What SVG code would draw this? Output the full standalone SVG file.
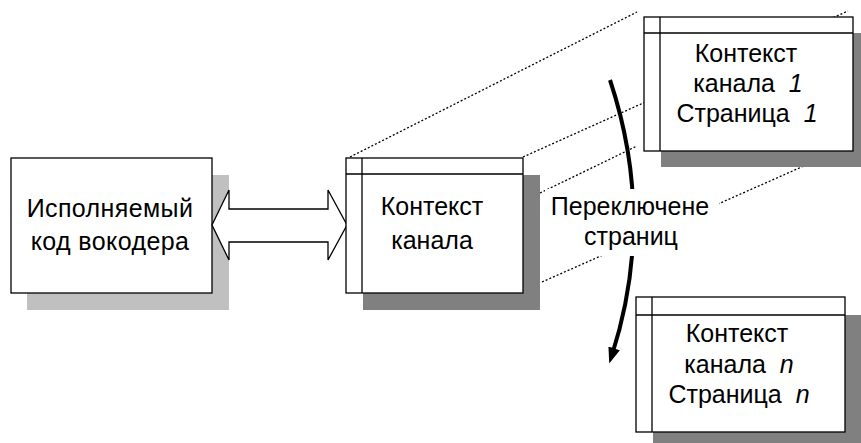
<svg xmlns="http://www.w3.org/2000/svg" width="861" height="443" viewBox="0 0 861 443">
  <style>
    .frame { fill: #ffffff; stroke: #000000; stroke-width: 1.3; }
    .rule { fill: none; stroke: #000000; stroke-width: 1.3; }
    .shadow-dark { fill: #808080; }
    .shadow-light { fill: #c0c0c0; }
    .dotted { fill: none; stroke: #000000; stroke-width: 1.3; stroke-dasharray: 2 2; }
    .label { font-family: "Liberation Sans", Arial, sans-serif; font-size: 25px; fill: #000000; text-anchor: middle; }
    .num { font-style: italic; }
  </style>
  <defs>
    <marker id="head" markerUnits="userSpaceOnUse" viewBox="0 0 16 12" markerWidth="16" markerHeight="12" refX="7" refY="6" orient="auto">
      <path d="M0,0 L16,6 L0,12 z" fill="#000000"/>
    </marker>
  </defs>

  <rect width="861" height="443" fill="#ffffff"/>

  <!-- connectors: projection lines and the page-switch arc -->
  <g id="connectors">
    <line class="dotted" x1="350" y1="157" x2="637" y2="12"/>
    <line class="dotted" x1="523" y1="157" x2="848" y2="11"/>
    <line class="dotted" x1="540" y1="193" x2="637" y2="146"/>
    <line class="dotted" x1="542" y1="282" x2="858" y2="142"/>
    <path d="M610,80 Q656,218 612,355" fill="none" stroke="#000000" stroke-width="4" marker-end="url(#head)"/>
  </g>

  <!-- page switch label -->
  <g id="switch-label">
    <rect x="545" y="189" width="174" height="67" fill="#ffffff"/>
    <text class="label" x="630" y="215">Переключене</text>
    <text class="label" x="631" y="245">страниц</text>
  </g>

  <!-- executable code -->
  <g id="vocoder-code">
    <rect class="shadow-light" x="27" y="175" width="202" height="135"/>
    <rect class="frame" x="11" y="158" width="201" height="135"/>
    <text class="label" x="110" y="217" style="letter-spacing:0.4px">Исполняемый</text>
    <text class="label" x="110" y="250" style="letter-spacing:0.4px">код вокодера</text>
  </g>

  <!-- two-way data exchange -->
  <g id="exchange">
    <polygon class="frame" points="212,225 229,190 229,209 328,209 328,190 347,225 328,260 328,242 229,242 229,260"/>
  </g>

  <!-- active channel context -->
  <g id="channel-context">
    <rect class="shadow-dark" x="363" y="175" width="177" height="135"/>
    <rect class="frame" x="346" y="158" width="177" height="135"/>
    <line class="rule" x1="362" y1="158" x2="362" y2="293"/>
    <line class="rule" x1="346" y1="174" x2="523" y2="174"/>
    <text class="label" x="432" y="215">Контекст</text>
    <text class="label" x="432" y="249">канала</text>
  </g>

  <!-- page 1 -->
  <g id="page-1">
    <rect class="shadow-dark" x="661" y="33" width="210" height="134"/>
    <rect class="frame" x="644" y="17" width="209" height="134"/>
    <line class="rule" x1="660" y1="17" x2="660" y2="151"/>
    <line class="rule" x1="644" y1="33" x2="853" y2="33"/>
    <text class="label" x="746" y="62">Контекст</text>
    <text class="label" x="748" y="92" xml:space="preserve">канала  <tspan class="num">1</tspan></text>
    <text class="label" x="747" y="122" xml:space="preserve">Страница  <tspan class="num">1</tspan></text>
  </g>

  <!-- page n -->
  <g id="page-n">
    <rect class="shadow-dark" x="653" y="315" width="210" height="135"/>
    <rect class="frame" x="636" y="297" width="209" height="135"/>
    <line class="rule" x1="652" y1="297" x2="652" y2="432"/>
    <line class="rule" x1="636" y1="315" x2="845" y2="315"/>
    <text class="label" x="737" y="342">Контекст</text>
    <text class="label" x="739" y="373" xml:space="preserve">канала  <tspan class="num">n</tspan></text>
    <text class="label" x="739" y="403" xml:space="preserve">Страница  <tspan class="num">n</tspan></text>
  </g>
</svg>
